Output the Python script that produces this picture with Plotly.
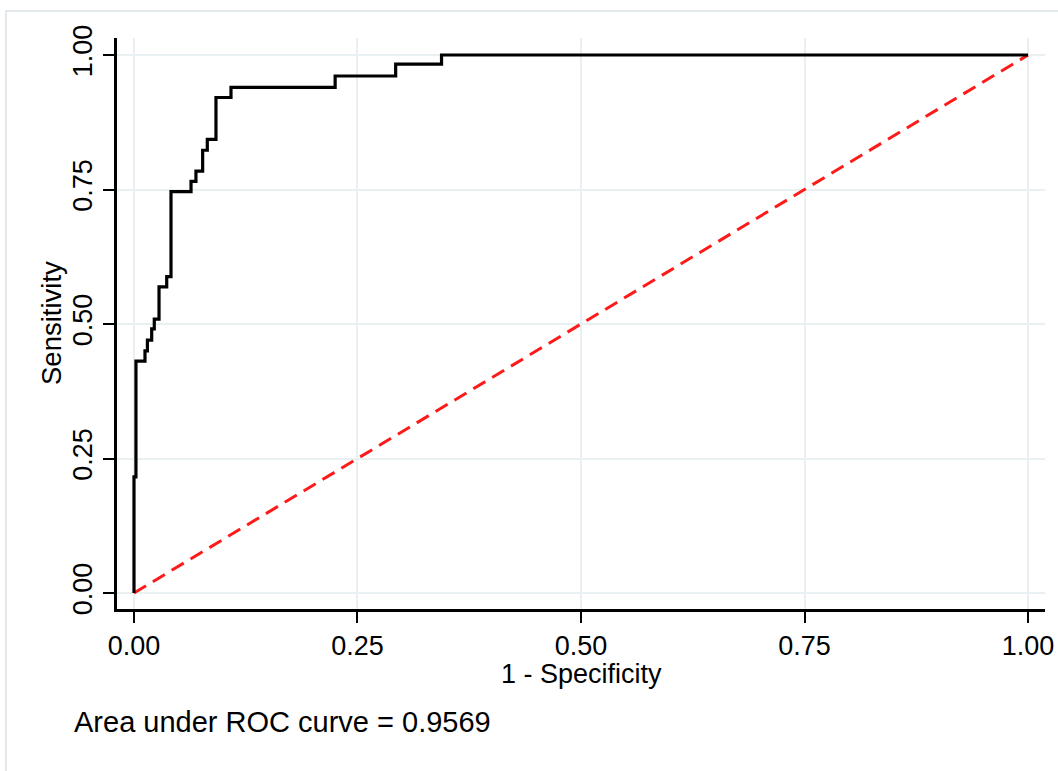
import plotly.graph_objects as go

# ROC curve points (1 - specificity, sensitivity)
fpr = [0.0, 0.0, 0.0022, 0.0022, 0.0123, 0.0123, 0.0150, 0.0150, 0.0198, 0.0198,
       0.0227, 0.0227, 0.0280, 0.0280, 0.0366, 0.0366, 0.0414, 0.0414, 0.0638, 0.0638,
       0.0693, 0.0693, 0.0768, 0.0768, 0.0820, 0.0820, 0.0917, 0.0917, 0.1085, 0.1085,
       0.2250, 0.2250, 0.2927, 0.2927, 0.3440, 0.3440, 1.0]
sens = [0.0, 0.216, 0.216, 0.431, 0.431, 0.450, 0.450, 0.470, 0.470, 0.491,
        0.491, 0.509, 0.509, 0.569, 0.569, 0.588, 0.588, 0.746, 0.746, 0.765,
        0.765, 0.784, 0.784, 0.823, 0.823, 0.843, 0.843, 0.921, 0.921, 0.940,
        0.940, 0.961, 0.961, 0.983, 0.983, 1.0, 1.0]

ref_x = [0.0, 1.0]
ref_y = [0.0, 1.0]

tick_vals = [0.0, 0.25, 0.5, 0.75, 1.0]
tick_text = ["0.00", "0.25", "0.50", "0.75", "1.00"]
x_title = "1 - Specificity"
y_title = "Sensitivity"
auc_text = "Area under ROC curve = 0.9569"

FONT = "Liberation Sans, Arial, sans-serif"
GRID = "#e9f0f2"

fig = go.Figure()
fig.add_trace(go.Scatter(x=ref_x, y=ref_y, mode="lines",
                         line=dict(color="#ff1a1a", width=3, dash="14px,8px"),
                         hoverinfo="skip", showlegend=False))
fig.add_trace(go.Scatter(x=fpr, y=sens, mode="lines",
                         line=dict(color="black", width=3.2),
                         showlegend=False))

W, H = 1058, 771
L, R, T, B = 117, 13, 38, 162
pw, ph = W - L - R, H - T - B

def px_x(p):
    return (p - L) / pw

def px_y(p):
    return (H - B - p) / ph

fig.update_layout(
    width=W, height=H,
    margin=dict(l=L, r=R, t=T, b=B, pad=0, autoexpand=False),
    paper_bgcolor="white", plot_bgcolor="white",
    font=dict(family=FONT, color="black", size=27),
    xaxis=dict(range=[-0.019, 1.019], tickvals=tick_vals, ticktext=tick_text,
               automargin=False,
               showline=True, linecolor="black", linewidth=3, mirror=False,
               ticks="outside", ticklen=11, tickwidth=2, tickcolor="black",
               showgrid=True, gridcolor=GRID, gridwidth=2, zeroline=False,
               tickfont=dict(size=27)),
    yaxis=dict(range=[-0.0297, 1.0316], tickvals=tick_vals, ticktext=tick_text,
               automargin=False,
               showline=True, linecolor="black", linewidth=3, mirror=False,
               ticks="outside", ticklen=11, tickwidth=2, tickcolor="black",
               showgrid=True, gridcolor=GRID, gridwidth=2, zeroline=False,
               tickangle=-90, tickfont=dict(size=27)),
    shapes=[dict(type="rect", xref="paper", yref="paper",
                 x0=px_x(6), x1=px_x(1075), y0=px_y(790), y1=px_y(11),
                 line=dict(color="#e3eaee", width=2), fillcolor="rgba(0,0,0,0)",
                 layer="below")],
    annotations=[
        dict(text=auc_text, xref="paper", yref="paper",
             x=px_x(72), y=px_y(722), xanchor="left", yanchor="middle",
             showarrow=False, font=dict(size=29, color="black")),
        dict(text=x_title, xref="paper", yref="paper",
             x=px_x(581), y=px_y(674), xanchor="center", yanchor="middle",
             showarrow=False, font=dict(size=27, color="black")),
        dict(text=y_title, xref="paper", yref="paper", textangle=-90,
             x=px_x(51), y=px_y(323), xanchor="center", yanchor="middle",
             showarrow=False, font=dict(size=27.5, color="black")),
    ],
)

fig.write_html("out.html")
